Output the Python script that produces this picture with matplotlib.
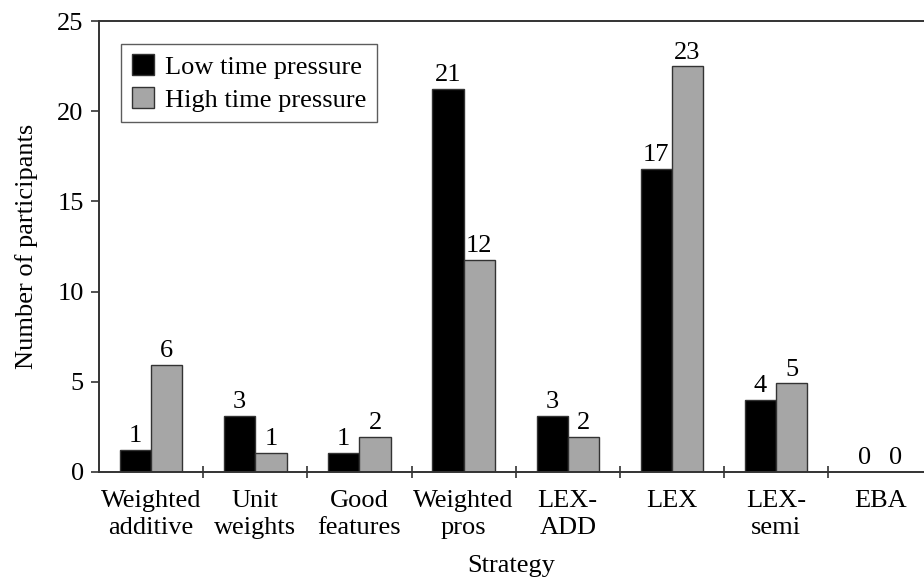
import matplotlib
matplotlib.use("Agg")
import matplotlib.pyplot as plt
import numpy as np

categories = ["Weighted\nadditive", "Unit\nweights", "Good\nfeatures", "Weighted\npros",
              "LEX-\nADD", "LEX", "LEX-\nsemi", "EBA"]
low_heights = [1.2, 3.1, 1.05, 21.25, 3.1, 16.8, 4.0, 0]
high_heights = [5.95, 1.05, 1.95, 11.75, 1.95, 22.5, 4.9, 0]
low_labels = ["1", "3", "1", "21", "3", "17", "4", "0"]
high_labels = ["6", "1", "2", "12", "2", "23", "5", "0"]

plt.rcParams['font.family'] = ['Liberation Serif', 'DejaVu Serif']
fs = 19

fig = plt.figure(figsize=(9.24, 5.83), dpi=100)
ax = fig.add_axes([99/924, 1-471.7/583, 1-99/924, 450.4/583])

x = np.arange(len(categories))
w = 0.3
edge = '#333333'
ax.bar(x - w, low_heights, width=w, align='edge', color='black', edgecolor=edge,
       linewidth=1.0, label='Low time pressure')
ax.bar(x, high_heights, width=w, align='edge', color='#a6a6a6', edgecolor=edge,
       linewidth=1.0, label='High time pressure')

for xi, h, t in zip(x, low_heights, low_labels):
    ax.text(xi - w/2, h + 0.15, t, ha='center', va='bottom', fontsize=fs)
for xi, h, t in zip(x, high_heights, high_labels):
    ax.text(xi + w/2, h + 0.15, t, ha='center', va='bottom', fontsize=fs)

ax.set_xlim(-0.5, 7.42)
ax.set_ylim(0, 25)
ax.set_yticks([0, 5, 10, 15, 20, 25])
ax.set_xticks(x)
ax.set_xticklabels(categories, fontsize=fs, linespacing=1.33)
ax.set_xticks(np.arange(len(categories) - 1) + 0.5, minor=True)
ax.tick_params(axis='x', which='major', length=0, pad=13)
ax.tick_params(axis='x', which='minor', length=8, direction='inout', width=1.2, color=edge)
ax.tick_params(axis='y', which='major', length=6, direction='out', width=1.2, color=edge,
               labelsize=fs, pad=5)

for s in ['left', 'bottom', 'top']:
    ax.spines[s].set_color(edge)
    ax.spines[s].set_linewidth(1.4)
ax.spines['right'].set_visible(False)

ax.set_ylabel('Number of participants', fontsize=fs, labelpad=14)
ax.set_xlabel('Strategy', fontsize=fs, labelpad=11)

leg = ax.legend(loc='upper left', bbox_to_anchor=(0.027, 0.95), fontsize=fs, frameon=True,
                fancybox=False, edgecolor=edge, handlelength=0.85, handleheight=0.85,
                handletextpad=0.4, borderpad=0.4, labelspacing=0.3, borderaxespad=0)
leg.get_frame().set_linewidth(1.0)

fig.savefig('out.png', dpi=100)
